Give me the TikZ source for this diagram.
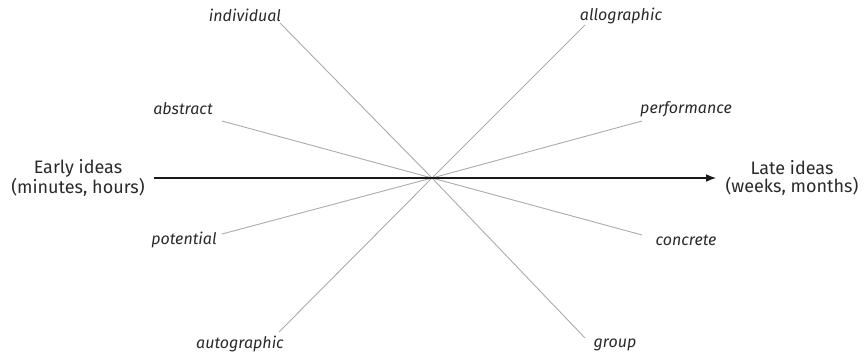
\documentclass[tikz,border=0pt]{standalone}
\usepackage{fontspec}
\setmainfont{Fira Sans}
\usepackage{tikz}
\usetikzlibrary{positioning,arrows.meta}

\definecolor{ink}{HTML}{2A2A2A}
\definecolor{spoke}{HTML}{ABABAB}

\begin{document}
\begin{tikzpicture}[x=1pt, y=-1pt, >=Latex,
    every node/.style={text=ink},
    axislabel/.style={font=\fontsize{18}{18}\selectfont, align=center, inner xsep=9pt},
    pole/.style={font=\fontsize{16}{16}\selectfont\itshape},
    spokeline/.style={draw=spoke, line width=0.9pt}]
  \useasboundingbox (0,0) rectangle (868,359);
  \coordinate (c) at (432,178);
  % main axis
  \node[axislabel] (early) at (78,178) {Early ideas\\(minutes, hours)};
  \node[axislabel] (late) at (792,178) {Late ideas\\(weeks, months)};
  % spoke ends
  \coordinate (eind) at (280,23);
  \coordinate (egrp) at (585,338);
  \coordinate (eall) at (585,25);
  \coordinate (eaut) at (279,332);
  \coordinate (eabs) at (222,121);
  \coordinate (econ) at (642,235);
  \coordinate (eper) at (642,121);
  \coordinate (epot) at (222,234);
  % pole labels
  \node[pole] (individual) at (245,15) {individual};
  \node[pole] (group) at (615,345) {group};
  \node[pole] (allographic) at (621,16) {allographic};
  \node[pole] (autographic) at (240,344) {autographic};
  \node[pole] (abstract) at (183,109) {abstract};
  \node[pole] (concrete) at (686,240) {concrete};
  \node[pole] (performance) at (686,109) {performance};
  \node[pole] (potential) at (184,240) {potential};
  \draw[spokeline] (eind) -- (c) -- (egrp);
  \draw[spokeline] (eall) -- (c) -- (eaut);
  \draw[spokeline] (eabs) -- (c) -- (econ);
  \draw[spokeline] (eper) -- (c) -- (epot);
  \draw[->, line width=1.6pt, draw=black!90] (early.east) -- (late.west);
\end{tikzpicture}
\end{document}
